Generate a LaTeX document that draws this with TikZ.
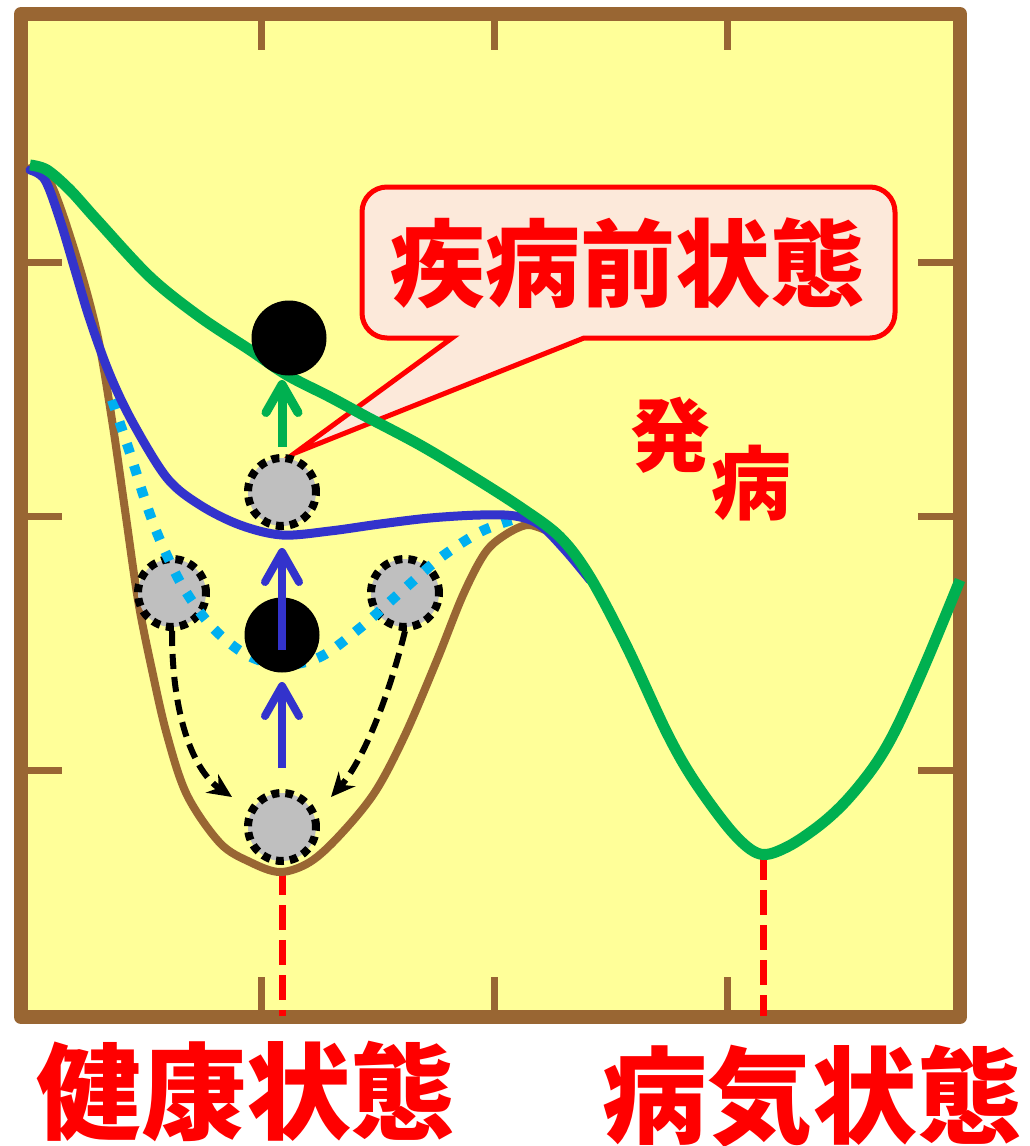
\documentclass[tikz,border=0pt]{standalone}
\usepackage{fontspec}
\newfontfamily\jp{Noto Sans CJK JP}
\usetikzlibrary{arrows.meta}
\definecolor{bg}{HTML}{FFFF99}
\definecolor{frm}{HTML}{996633}
\definecolor{gr}{HTML}{00B050}
\definecolor{bl}{HTML}{3333CC}
\definecolor{cy}{HTML}{00B0F0}
\definecolor{pk}{HTML}{FCE9DA}
\definecolor{gy}{HTML}{BFBFBF}
\definecolor{rd}{HTML}{FF0000}
\tikzset{
  frame/.style={draw=frm, line width=14pt, fill=bg, line join=round},
  tickmark/.style={draw=frm, line width=7pt},
  brownc/.style={draw=frm, line width=8pt, line cap=round, line join=round},
  bluec/.style={draw=bl, line width=9pt, line cap=round, line join=round},
  greenc/.style={draw=gr, line width=11pt, line cap=round, line join=round},
  cyanc/.style={draw=cy, line width=10pt, dash pattern=on 10pt off 13pt},
  statec/.style={circle, fill=gy, draw=black, line width=8pt, dash pattern=on 8pt off 6pt, minimum size=68pt, inner sep=0pt},
  ball/.style={circle, fill=black, minimum size=75pt, inner sep=0pt},
  barrow/.style={draw=bl, line width=8pt, -{Straight Barb[length=30pt,width=34pt,round]}},
  garrow/.style={draw=gr, line width=9pt, -{Straight Barb[length=28pt,width=32pt,round]}},
  darrow/.style={draw=black, line width=6pt, dash pattern=on 15pt off 8pt, -{Stealth[length=24pt,width=22pt]}},
  reddash/.style={draw=rd, line width=7pt, dash pattern=on 25pt off 10pt},
  callout/.style={draw=rd, line width=5pt, fill=pk, line join=miter},
  lbl/.style={text=rd, inner sep=0pt, anchor=base, font=\jp\bfseries},
}
\begin{document}
\begin{tikzpicture}[x=1pt,y=-1pt]
\useasboundingbox (0,0) rectangle (1030,1146);
% frame
\draw[frame] (21,14) rectangle (960,1017);
\foreach \t in {261,494,727}{
  \draw[tickmark] (\t,21) -- (\t,50);
  \draw[tickmark] (\t,977) -- (\t,1010);
}
\foreach \t in {262,516,770}{
  \draw[tickmark] (28,\t) -- (62,\t);
  \draw[tickmark] (918,\t) -- (954,\t);
}
% red dashed markers
\coordinate (h1) at (282,870);
\coordinate (h2) at (282,1016);
\coordinate (d1) at (763,855);
\coordinate (d2) at (763,1016);
\draw[reddash] (h1) -- (h2);
\draw[reddash] (d1) -- (d2);
% callout
\draw[callout] (452,338) -- (295,453) -- (584,338) -- (870,338)
  arc[start angle=90, end angle=0, radius=25] -- (895,212)
  arc[start angle=0, end angle=-90, radius=25] -- (387,187)
  arc[start angle=-90, end angle=-180, radius=25] -- (362,313)
  arc[start angle=180, end angle=90, radius=25] -- cycle;
\node[lbl, font=\jp\bfseries\fontsize{95}{95}\selectfont] (pre) at (628,299) {疾病前状態};
% brown curve
\draw[brownc] plot[smooth, tension=0.55] coordinates {
 (30,168) (50,182) (75,252) (97,333) (112,420) (125,510) (138,600) (152,670)
 (167,735) (187,795) (220,843) (250,862) (280,872) (310,862) (340,835)
 (375,792) (405,735) (437,660) (463,595) (485,553) (505,535) (527,525) (545,530)};
% side states
\node[statec] (s2) at (172,593) {};
\node[statec] (s3) at (405,593) {};
% cyan dotted
\draw[cyanc] plot[smooth, tension=0.55] coordinates {
 (112,400) (130,453) (145,500) (160,540) (183,587) (213,628)
 (247,655) (282,665) (320,657) (360,628) (403,590) (440,558) (480,532) (512,520)};
% blue curve
\draw[bluec] plot[smooth, tension=0.55] coordinates {
 (30,170) (45,180) (60,220) (75,270) (90,320) (110,375) (133,423) (167,478)
 (200,505) (240,525) (282,535) (330,531) (380,524) (430,518) (480,515)
 (515,516) (540,525) (565,550) (590,580)};
% middle states
\node[statec] (s1) at (282,492) {};
\node[statec] (s4) at (282,827) {};
% green curve
\draw[greenc, line cap=butt] plot[smooth, tension=0.55] coordinates {
 (30,165) (47,170) (70,190) (97,220) (150,277) (200,317) (250,350) (287,375)
 (330,397) (367,417) (420,445) (470,475) (520,507) (560,537) (590,577)
 (627,647) (667,733) (695,782) (733,833) (760,854) (787,847) (820,825)
 (847,800) (875,765) (897,727) (927,660) (960,580)};
% balls
\node[ball] (b1) at (282,635) {};
\node[ball] (b2) at (289,338) {};
% arrows
\draw[barrow, shorten <=59pt, shorten >=47pt] (s4.center) -- (b1.center);
\draw[barrow, shorten <=-15pt, shorten >=56pt] (b1.center) -- (s1.center);
\coordinate (gt) at (s1 |- b2);
\draw[garrow, shorten <=45pt, shorten >=42pt] (s1.center) -- (gt);
\coordinate (e1) at (232,797);
\coordinate (e2) at (331,797);
\draw[darrow] (s2.south) .. controls (172,720) and (195,772) .. (e1);
\draw[darrow] (s3.south) .. controls (388,700) and (362,762) .. (e2);
% labels
\node[lbl, font=\jp\bfseries\fontsize{80}{80}\selectfont] (t1) at (670,465) {発};
\node[lbl, font=\jp\bfseries\fontsize{80}{80}\selectfont] (t2) at (751,513) {病};
\node[lbl, font=\jp\bfseries\fontsize{105}{105}\selectfont] (t3) at (246,1131) {健康状態};
\node[lbl, font=\jp\bfseries\fontsize{105}{105}\selectfont] (t4) at (812,1135) {病気状態};
\end{tikzpicture}
\end{document}
